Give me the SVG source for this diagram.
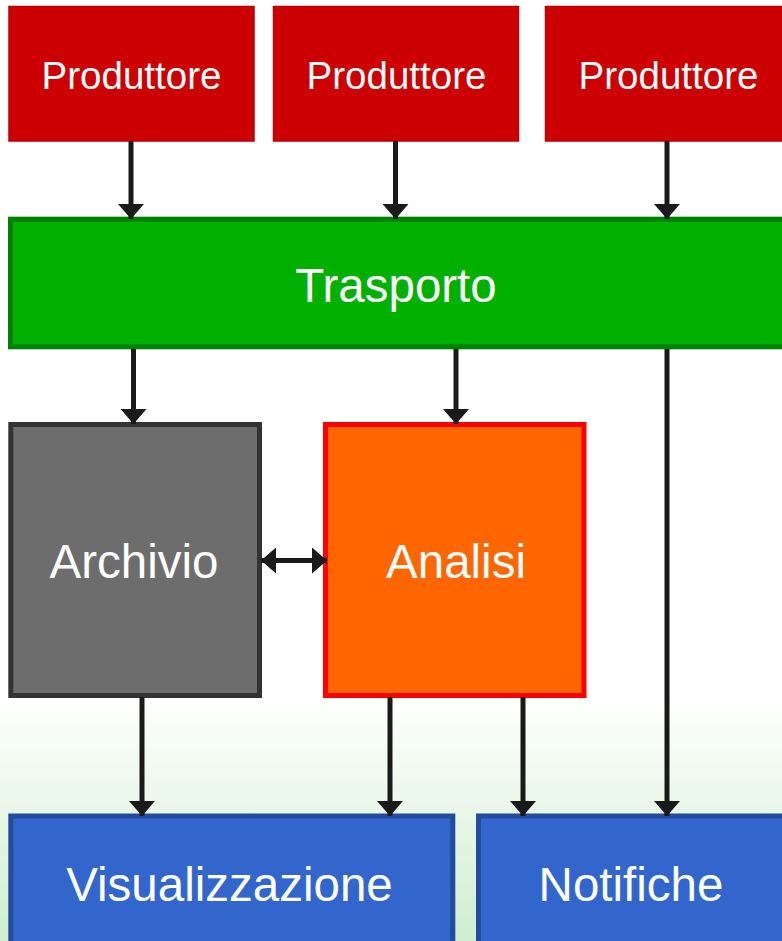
<svg xmlns="http://www.w3.org/2000/svg" width="782" height="941" viewBox="0 0 782 941">
  <defs>
    <linearGradient id="bg" x1="0" y1="0" x2="0" y2="1">
      <stop offset="0" stop-color="#ffffff"/>
      <stop offset="0.74" stop-color="#ffffff"/>
      <stop offset="1" stop-color="#cfeecf"/>
    </linearGradient>
    <marker id="arrow" viewBox="0 -13 15 26" refX="15" refY="0" markerWidth="15" markerHeight="26" markerUnits="userSpaceOnUse" orient="auto-start-reverse">
      <path d="M0,-13 L15,0 L0,13 Z" fill="#1a1a1a"/>
    </marker>
    <style>
      .label { font-family: "Liberation Sans", Arial, sans-serif; fill: #ffffff; text-anchor: middle; }
      .small { font-size: 38.5px; }
      .big { font-size: 47.5px; }
      .producer { fill: #cc0000; stroke: #b80000; stroke-width: 1.5; }
      .transport { fill: #00b000; stroke: #008000; stroke-width: 5; }
      .archive { fill: #6d6d6d; stroke: #333333; stroke-width: 5; }
      .analysis { fill: #ff6600; stroke: #ff0000; stroke-width: 5; }
      .output { fill: #3366cc; stroke: #234c9c; stroke-width: 5; }
      .edge { stroke: #1a1a1a; stroke-width: 5; fill: none; marker-end: url(#arrow); }
      .both { marker-start: url(#arrow); }
    </style>
  </defs>

  <rect x="0" y="0" width="782" height="941" fill="url(#bg)"/>

  <g id="produttore-1">
    <rect class="producer" x="9" y="6.5" width="245" height="134.5"/>
    <text class="label small" x="131.5" y="89">Produttore</text>
  </g>
  <g id="produttore-2">
    <rect class="producer" x="273.5" y="6.5" width="245" height="134.5"/>
    <text class="label small" x="396.5" y="89">Produttore</text>
  </g>
  <g id="produttore-3">
    <rect class="producer" x="545.5" y="6.5" width="245" height="134.5"/>
    <text class="label small" x="668.5" y="89">Produttore</text>
  </g>

  <g id="trasporto">
    <rect class="transport" x="10.5" y="219.2" width="780" height="127.6"/>
    <text class="label big" x="396" y="302">Trasporto</text>
  </g>

  <g id="archivio">
    <rect class="archive" x="10.8" y="424.5" width="248.7" height="271"/>
    <text class="label big" x="134" y="578">Archivio</text>
  </g>

  <g id="analisi">
    <rect class="analysis" x="325.5" y="424.5" width="258.5" height="271"/>
    <text class="label big" x="456" y="578">Analisi</text>
  </g>

  <g id="visualizzazione">
    <rect class="output" x="10.8" y="816" width="442" height="140"/>
    <text class="label big" x="229.5" y="900.5">Visualizzazione</text>
  </g>

  <g id="notifiche">
    <rect class="output" x="478.5" y="816" width="320" height="140"/>
    <text class="label big" x="631" y="900.5">Notifiche</text>
  </g>

  <g id="connectors">
    <line class="edge" x1="131" y1="141" x2="131" y2="219"/>
    <line class="edge" x1="395.5" y1="141" x2="395.5" y2="219"/>
    <line class="edge" x1="667" y1="141" x2="667" y2="219"/>
    <line class="edge" x1="133.5" y1="349" x2="133.5" y2="424"/>
    <line class="edge" x1="456" y1="349" x2="456" y2="424"/>
    <line class="edge" x1="667" y1="349" x2="667" y2="816"/>
    <line class="edge both" x1="261" y1="560.5" x2="327" y2="560.5"/>
    <line class="edge" x1="142" y1="697" x2="142" y2="816"/>
    <line class="edge" x1="390" y1="697" x2="390" y2="816"/>
    <line class="edge" x1="523" y1="697" x2="523" y2="816"/>
  </g>
</svg>
